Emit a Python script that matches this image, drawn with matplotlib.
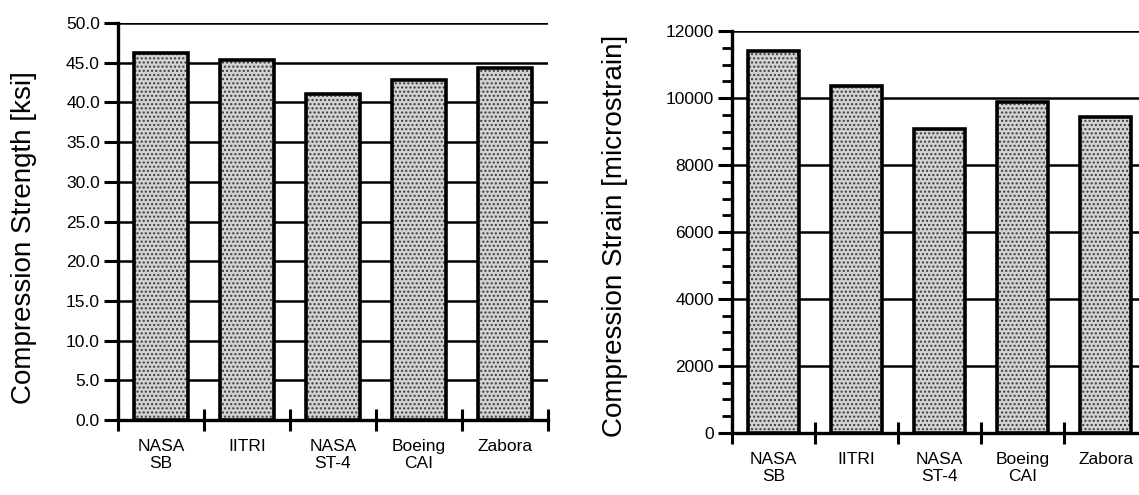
import numpy as np
import matplotlib
matplotlib.use("Agg")
from matplotlib import pyplot as plt
from matplotlib.ticker import MultipleLocator, FixedLocator

plt.rcParams['font.family'] = ['Liberation Sans', 'DejaVu Sans']
plt.rcParams['hatch.linewidth'] = 1.0

# data
methods = ['NASA\nSB', 'IITRI', 'NASA\nST-4', 'Boeing\nCAI', 'Zabora']
strength_ksi = [46.2, 45.4, 41.0, 42.8, 44.3]
strain_micro = [11400, 10350, 9080, 9870, 9420]

fig = plt.figure(figsize=(11.39, 4.95), dpi=100)
ax1 = fig.add_axes([0.1036, 0.1515, 0.3775, 0.802])
ax2 = fig.add_axes([0.6427, 0.1253, 0.3644, 0.812])


def style(ax, vals, ylim, major, minor, fmt, ylabel, lab_x, lab_y):
    x = np.arange(len(vals)) + 0.5
    ax.set_axisbelow(True)
    # stippled fill, then the black outline on top
    ax.bar(x, vals, width=0.62, facecolor='#d2d2d2', edgecolor='#3a3a3a',
           linewidth=0, hatch='....', zorder=3)
    ax.bar(x, vals, width=0.62, facecolor='none', edgecolor='black',
           linewidth=2.6, zorder=4)
    ax.set_xlim(0, len(vals))
    ax.set_ylim(*ylim)
    for s in ['top', 'right']:
        ax.spines[s].set_visible(False)
    for s in ['left', 'bottom']:
        ax.spines[s].set_linewidth(2.4)
    # gridlines across the back, every major step
    ax.yaxis.set_major_locator(MultipleLocator(major))
    if minor:
        ax.yaxis.set_minor_locator(MultipleLocator(minor))
    ax.yaxis.grid(True, which='major', color='black', linewidth=1.8)
    ax.tick_params(axis='y', which='major', direction='out', length=10,
                   width=2.2, labelsize=12.5, pad=3)
    ax.tick_params(axis='y', which='minor', direction='out', length=7,
                   width=2.0)
    ax.yaxis.set_major_formatter(fmt)
    # category separators on the x axis, names in between
    ax.xaxis.set_major_locator(FixedLocator(np.arange(len(vals) + 1)))
    ax.xaxis.set_minor_locator(FixedLocator(x))
    ax.xaxis.set_major_formatter(plt.NullFormatter())
    ax.xaxis.set_minor_formatter(plt.FixedFormatter(methods))
    ax.tick_params(axis='x', which='major', direction='inout', length=16,
                   width=2.2)
    ax.tick_params(axis='x', which='minor', length=0, labelsize=12.5, pad=14)
    for t in ax.xaxis.get_minorticklabels():
        t.set_linespacing(1.1)
    ax.set_ylabel(ylabel, fontsize=20)
    ax.yaxis.set_label_coords(lab_x, lab_y)


style(ax1, strength_ksi, (0, 50), 5, None, '{x:.1f}',
      'Compression Strength [ksi]', -0.188, 0.46)
style(ax2, strain_micro, (0, 12000), 2000, 500, '{x:.0f}',
      'Compression Strain [microstrain]', -0.25, 0.49)

fig.savefig('out.png', dpi=100)
